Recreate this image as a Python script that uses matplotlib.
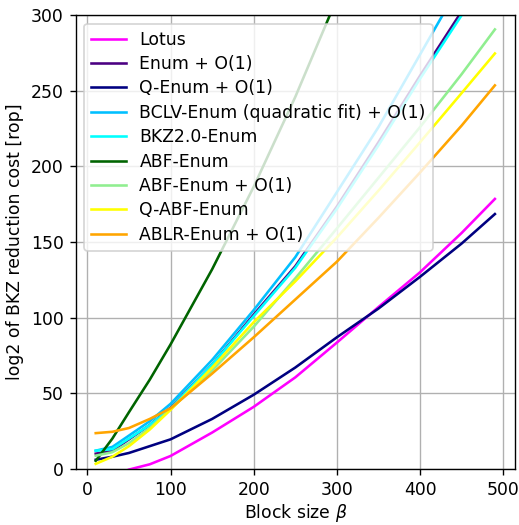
import matplotlib
matplotlib.use("Agg")
import matplotlib.pyplot as plt

beta = [10, 30, 50, 75, 100, 150, 200, 250, 300, 350, 400, 450, 490]

lotus = [-10, -5, -0.5, 3, 8.5, 24, 41, 60.5, 83.5, 107, 130, 156, 178.5]
enum_o1 = [10, 12, 19.5, 29, 40.5, 69, 102, 134, 173.5, 216, 260, 302.5, 340]
q_enum_o1 = [6, 8, 10.5, 15, 19.5, 33, 49, 67, 87, 106, 127, 149, 168.5]
bclv_enum = [12, 14.5, 22, 31.5, 43, 72, 105, 140, 183, 226, 274, 322, 362]
bkz20_enum = [12, 13, 20, 29, 40, 69, 101, 133, 172, 214, 258, 300, 337]
abf_enum = [5.3, 20, 37.5, 59, 82.3, 132, 186.6, 246, 311, 380, 455, 535, 600]
abf_enum_o1 = [8.7, 11, 17, 27, 39.5, 65, 94, 126, 159, 192.5, 226, 261, 290.6]
q_abf_enum = [3.3, 8, 15, 26, 39, 67, 97, 124, 153, 184, 216, 248.5, 274.7]
ablr_enum_o1 = [23.6, 24.5, 27, 33, 40, 63, 87, 112, 137, 166, 196, 227, 253.6]

series = [
    ("Lotus", lotus, "magenta"),
    ("Enum + O(1)", enum_o1, "indigo"),
    ("Q-Enum + O(1)", q_enum_o1, "navy"),
    ("BCLV-Enum (quadratic fit) + O(1)", bclv_enum, "deepskyblue"),
    ("BKZ2.0-Enum", bkz20_enum, "cyan"),
    ("ABF-Enum", abf_enum, "darkgreen"),
    ("ABF-Enum + O(1)", abf_enum_o1, "lightgreen"),
    ("Q-ABF-Enum", q_abf_enum, "yellow"),
    ("ABLR-Enum + O(1)", ablr_enum_o1, "orange"),
]

fig, ax = plt.subplots(figsize=(519 / 124, 525 / 124), dpi=124)
fig.subplots_adjust(left=0.146, right=0.992, top=0.971, bottom=0.107)

for label, vals, col in series:
    ax.plot(beta, vals, color=col, label=label)

ax.set_ylim(0, 300)
ax.set_xticks([0, 100, 200, 300, 400, 500])
ax.set_yticks([0, 50, 100, 150, 200, 250, 300])
ax.grid(True)
ax.set_xlabel(r"Block size $\beta$", labelpad=2)
ax.set_ylabel("log2 of BKZ reduction cost [rop]")
ax.legend(loc="upper left", labelspacing=0.37)

fig.savefig("out.png", dpi=124)
